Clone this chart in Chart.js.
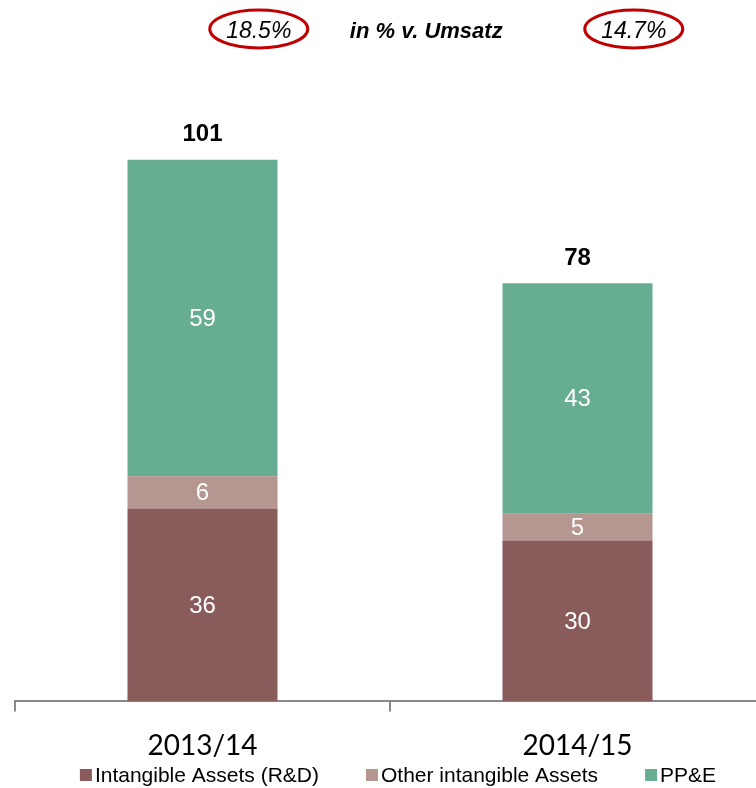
<!DOCTYPE html>
<html>
<head>
<meta charset="utf-8">
<script src="https://cdn.jsdelivr.net/npm/chart.js@4/dist/chart.umd.min.js"></script>
<style>
  html, body { margin: 0; padding: 0; background: #fff; overflow: hidden; }
  #wrap { width: 756px; height: 788px; overflow: hidden; }
</style>
</head>
<body>
<div id="wrap"><canvas id="chart" width="780" height="788"></canvas></div>
<script>
// data
const years = ['2013/14', '2014/15'];
const rdAssets = [36, 30];
const otherIntangible = [6, 5];
const ppe = [59, 43];
const pctOfSales = ['18.5%', '14.7%'];
const pctCaption = 'in % v. Umsatz';

const totals = years.map((y, i) => rdAssets[i] + otherIntangible[i] + ppe[i]);
const FONT = '"Liberation Sans", Arial, sans-serif';

// white numbers inside the segments + bold totals on top
const valueLabels = {
  id: 'valueLabels',
  afterDatasetsDraw(chart) {
    const ctx = chart.ctx;
    ctx.save();
    ctx.textAlign = 'center';
    ctx.textBaseline = 'middle';
    ctx.font = '24px ' + FONT;
    ctx.fillStyle = '#fff';
    chart.data.datasets.forEach((ds, di) => {
      chart.getDatasetMeta(di).data.forEach((bar, i) => {
        const mid = (bar.y + bar.base) / 2;
        ctx.fillText(ds.data[i], bar.x, mid + 1);
      });
    });
    const top = chart.getDatasetMeta(chart.data.datasets.length - 1).data;
    ctx.font = 'bold 24px ' + FONT;
    ctx.fillStyle = '#000';
    top.forEach((bar, i) => {
      ctx.fillText(totals[i], bar.x, bar.y - 25);
    });
    ctx.restore();
  }
};

// circled percentages above the chart
const pctHeader = {
  id: 'pctHeader',
  afterDraw(chart) {
    const ctx = chart.ctx;
    const xs = chart.scales.x;
    const step = xs.getPixelForValue(1) - xs.getPixelForValue(0);
    const y = 29;
    ctx.save();
    ctx.textAlign = 'center';
    ctx.textBaseline = 'middle';
    const centers = [];
    pctOfSales.forEach((p, i) => {
      const cx = xs.getPixelForValue(i) + step * 0.15;
      centers.push(cx);
      ctx.beginPath();
      ctx.ellipse(cx, y, 49, 19, 0, 0, Math.PI * 2);
      ctx.strokeStyle = '#C00000';
      ctx.lineWidth = 3;
      ctx.stroke();
      ctx.font = 'italic 23px ' + FONT;
      ctx.fillStyle = '#000';
      ctx.fillText(p, cx, y + 3);
    });
    ctx.font = 'bold italic 22px ' + FONT;
    ctx.fillText(pctCaption, (centers[0] + centers[1]) / 2 - 20, y + 3);
    ctx.restore();
  }
};

// legend: square + text close together, wide gaps between entries
const bottomLegend = {
  id: 'bottomLegend',
  afterDraw(chart) {
    const ctx = chart.ctx;
    const box = 12, gapText = 3, gapItem = 47, y = 775;
    ctx.save();
    ctx.font = '21px ' + FONT;
    ctx.textBaseline = 'middle';
    const items = chart.data.datasets.map(ds => ({
      text: ds.label, color: ds.backgroundColor, w: ctx.measureText(ds.label).width
    }));
    const total = items.reduce((s, it) => s + box + gapText + it.w, 0) + gapItem * (items.length - 1);
    const ca = chart.chartArea;
    let x = (ca.left + ca.right) / 2 + 8 - total / 2;
    items.forEach(it => {
      ctx.fillStyle = it.color;
      ctx.fillRect(x, y - box / 2, box, box);
      ctx.fillStyle = '#000';
      ctx.fillText(it.text, x + box + gapText, y + 1);
      x += box + gapText + it.w + gapItem;
    });
    ctx.restore();
  }
};

new Chart(document.getElementById('chart'), {
  type: 'bar',
  data: {
    labels: years,
    datasets: [
      { label: 'Intangible Assets (R&D)', data: rdAssets, backgroundColor: '#8A5B5B' },
      { label: 'Other intangible Assets', data: otherIntangible, backgroundColor: '#B59690' },
      { label: 'PP&E', data: ppe, backgroundColor: '#67AD92' }
    ]
  },
  options: {
    responsive: false,
    animation: false,
    categoryPercentage: 1,
    barPercentage: 0.4,
    layout: { padding: { top: 58, left: 15, right: 15, bottom: 7 } },
    plugins: {
      legend: { display: false },
      tooltip: { enabled: false }
    },
    scales: {
      x: {
        stacked: true,
        grid: {
          drawOnChartArea: false,
          drawTicks: true,
          tickLength: 10,
          color: '#898989',
          lineWidth: 2,
          offset: true
        },
        border: { color: '#898989', width: 2 },
        ticks: {
          color: '#000',
          padding: 18,
          font: { family: 'Lato, sans-serif', size: 28 }
        }
      },
      y: {
        stacked: true,
        display: false,
        min: 0,
        max: 120
      }
    }
  },
  plugins: [valueLabels, pctHeader, bottomLegend]
});
</script>
</body>
</html>
